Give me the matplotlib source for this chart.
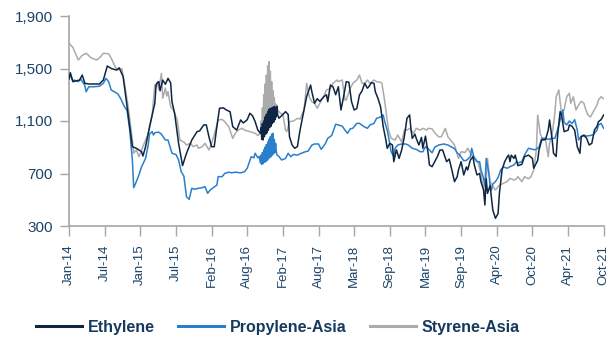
import matplotlib
matplotlib.use("Agg")
from matplotlib import pyplot as plt

# weekly series, x = week number counted from Jan-14 (half weeks where the source is denser)
eth_weeks = [0, 1, 3, 8, 10, 12, 15, 23, 26, 29, 32, 36, 38, 41, 43, 46, 48, 51, 55, 56, 58, 61, 65, 66, 68, 69,
             71, 73, 75, 77, 78, 80, 83, 86, 89, 93, 97, 99, 102, 104, 106, 108, 110, 112, 114, 117, 119, 122, 124,
             127, 130, 132, 135, 137, 139, 141, 143, 145,
             145.5, 146, 146.5, 147, 147.5, 148, 148.5, 149, 149.5, 150, 150.5, 151, 151.5, 152, 152.5, 153, 153.5,
             154, 154.5, 155, 155.5, 156, 156.5, 157, 157.5, 158,
             159, 161, 164, 166, 167, 169, 171, 173, 175, 178, 180, 183, 184, 186, 188, 190, 193, 195, 196, 198,
             200, 202, 204, 206, 208, 210, 212, 214, 216, 218, 220, 222, 224, 226, 227, 229, 231, 232, 234, 236, 238,
             240, 241, 243, 245, 246, 248, 250, 252, 254, 256, 258, 259, 260, 262, 263, 265, 267, 268, 270, 272, 273,
             275, 277, 279, 281, 283, 284, 286, 288, 290, 292, 294, 295, 297, 299, 301, 302, 304, 306, 307, 309, 311,
             312, 314, 315, 316, 317, 319, 320, 321, 323, 325, 326, 328, 330, 332, 333, 334, 335, 337, 338, 340, 343,
             345, 348, 351, 352, 355, 356, 358, 361, 363, 364, 366, 367, 369, 370, 372, 373, 375, 378, 379, 381, 383,
             385, 387, 388, 390, 392, 394, 396, 398, 400, 401, 403, 405]
eth_values = [1420, 1468, 1400, 1412, 1450, 1387, 1382, 1382, 1412, 1519, 1500, 1488, 1505, 1438, 1285, 1056, 904,
              892, 866, 833, 904, 1056, 1235, 1380, 1400, 1330, 1412, 1380, 1425, 1390, 1247, 1159, 930, 760, 854,
              955, 1019, 1025, 1070, 1070, 980, 904, 904, 1057, 1197, 1200, 1185, 1171, 1057, 1031, 1108, 1085, 1110,
              1159, 1140, 1095, 1031, 1006,
              1050, 960, 1080, 955, 1100, 980, 1130, 1000, 1150, 1010, 1170, 1030, 1190, 1050, 1195, 1060, 1200,
              1080, 1205, 1090, 1210, 1110, 1205, 1130, 1210, 1150,
              1121, 1140, 1171, 1150, 980, 917, 892, 905, 1031, 1184, 1285, 1374, 1320, 1235, 1270, 1250, 1285, 1300,
              1247, 1374, 1360, 1300, 1361, 1184, 1285, 1400, 1395, 1247, 1184, 1195, 1298, 1330, 1387, 1350, 1360,
              1392, 1387, 1323, 1273, 1209, 1057, 955, 892, 930, 917, 790, 880, 815, 880, 980, 1121, 1146, 1040, 968,
              1000, 968, 917, 975, 892, 985, 854, 765, 752, 790, 828, 879, 879, 850, 790, 810, 727, 638, 675, 727,
              790, 689, 750, 727, 803, 828, 765, 689, 700, 638, 574, 460, 660, 549, 610, 511, 422, 359, 395, 549, 727,
              790, 828, 840, 790, 840, 815, 840, 760, 770, 828, 840, 815, 740, 800, 879, 955, 960, 1031, 1108, 955,
              854, 830, 980, 1171, 1150, 1019, 1030, 1070, 1060, 1030, 904, 854, 980, 990, 970, 917, 930, 1031, 1060,
              1095, 1110, 1146]

pro_weeks = [0, 1, 3, 4, 7, 9, 12, 13, 15, 19, 23, 26, 28, 30, 32, 34, 37, 39, 42, 44, 46, 48, 49, 51, 53, 55, 58,
             60, 61, 63, 64, 65, 68, 70, 73, 75, 78, 81, 83, 85, 87, 89, 91, 93, 95, 98, 101, 103, 105, 107, 109, 112,
             113, 116, 118, 121, 123, 126, 130, 133, 135, 138, 140, 141, 143, 144,
             145, 145.5, 146, 146.5, 147, 147.5, 148, 148.5, 149, 149.5, 150, 150.5, 151, 151.5, 152, 152.5, 153,
             153.5, 154, 154.5, 155, 155.5, 156, 156.5, 157, 157.5,
             159, 161, 164, 166, 168, 170, 173, 175, 179, 181, 184, 186, 189, 191, 194,
             196, 199, 202, 204, 207, 209, 211, 213, 215, 218, 220, 223, 226, 228, 231, 233, 236, 238, 239, 241, 242,
             244, 246, 247, 249, 252, 255, 257, 260, 263, 266, 268, 270, 272, 275, 277, 280, 284, 287, 290, 292, 294,
             296, 299, 301, 304, 305, 307, 309, 311, 312, 314, 315, 316, 318, 319, 320, 321, 323, 325, 327, 329, 332,
             334, 337, 339, 340, 343, 345, 348, 351, 353, 356, 358, 361, 363, 366, 368, 370, 372, 374, 375, 377, 379,
             381, 383, 385, 386, 388, 390, 392, 395, 397, 400, 401, 403, 405]
pro_values = [1425, 1450, 1400, 1412, 1400, 1418, 1370, 1323, 1361, 1361, 1365, 1387, 1425, 1400, 1336, 1325, 1306,
              1273, 1209, 1180, 1031, 803, 592, 638, 690, 752, 815, 917, 1000, 1019, 993, 1011, 1015, 1000, 955, 955,
              854, 845, 803, 714, 680, 523, 503, 587, 580, 587, 592, 600, 549, 575, 590, 612, 676, 676, 701, 710, 705,
              710, 705, 714, 740, 828, 820, 854, 820, 830,
              780, 840, 770, 860, 775, 880, 785, 900, 790, 920, 800, 940, 810, 960, 820, 980, 830,
              1000, 840, 1006, 850, 960, 860, 930, 870, 841,
              830, 803, 815, 854, 828, 845, 840, 850, 866, 870, 917, 925, 925, 884, 925, 968, 990, 1075, 1070,
              1060, 1031, 1006, 1040, 1045, 1082, 1082, 1060, 1044, 1070, 1082, 1121, 1130, 1146, 1100, 1031, 980,
              866, 828, 892, 917, 925, 925, 917, 892, 884, 866, 866, 904, 890, 858, 900, 917, 925, 917, 900, 890, 858,
              840, 797, 800, 828, 892, 815, 790, 790, 730, 663, 600, 815, 700, 600, 574, 620, 638, 670, 727, 750, 740,
              752, 765, 790, 780, 790, 841, 892, 885, 880, 900, 968, 968, 960, 968, 968, 1031, 1108, 1184, 1090, 1070,
              1100, 1080, 1110, 1031, 955, 985, 993, 985, 990, 995, 1031, 1070, 1082, 1044]

sty_weeks = [0, 3, 7, 10, 13, 17, 21, 24, 26, 30, 32, 35, 37, 40, 42, 45, 48, 49, 51, 53, 55, 58, 60, 63, 65, 66, 67,
             68, 70, 71, 73, 74, 75, 77, 79, 82, 84, 87, 89, 92, 94, 97, 98, 101, 103, 106, 108, 111, 113, 116, 118,
             121, 124, 126, 128, 131, 133, 137, 141, 143, 145,
             145.5, 146, 146.5, 147, 147.5, 148, 148.5, 149, 149.5, 150, 150.5, 151, 151.5, 152, 152.5, 153, 153.5,
             154, 154.5, 155, 155.5, 156, 156.5, 157, 157.5, 158,
             160, 162, 164, 165, 167, 170, 173, 175, 178, 180, 182, 184, 186, 188, 190, 193, 195, 198, 200,
             203, 204, 207, 209, 210, 213, 215, 218, 220, 222, 224, 226, 228, 231, 233, 236, 237, 239, 241, 242, 244,
             247, 249, 252, 254, 256, 258, 261, 263, 266, 268, 271, 272, 275, 277, 280, 282, 285, 287, 289, 292, 295,
             297, 300, 302, 305, 308, 310, 312, 313, 315, 316, 317, 318, 319, 320, 323, 325, 326, 329, 332, 334, 337,
             339, 340, 343, 345, 348, 350, 352, 354, 355, 357, 359, 361, 363, 364, 366, 368, 369, 371, 372, 373, 375,
             377, 379, 380, 382, 384, 386, 388, 390, 391, 393, 395, 397, 400, 401, 403, 405]
sty_values = [1692, 1660, 1565, 1600, 1616, 1580, 1565, 1590, 1616, 1612, 1578, 1513, 1490, 1500, 1387, 1197, 955,
              854, 880, 828, 880, 955, 1000, 1146, 1374, 1361, 1400, 1340, 1463, 1273, 1350, 1290, 1323, 1209, 1184,
              1108, 955, 940, 917, 930, 905, 917, 892, 905, 930, 879, 930, 1031, 1108, 1112, 1095, 1057, 968, 1006,
              1031, 1044, 1031, 1019, 1006, 990, 1006,
              1100, 1040, 1200, 1060, 1300, 1080, 1380, 1100, 1450, 1120, 1520, 1150, 1552, 1160, 1480, 1150, 1400,
              1140, 1330, 1150, 1280, 1160, 1230, 1180, 1220, 1184,
              1160, 1150, 1031, 1020, 1095, 1100, 1120, 1115, 1184, 1387, 1285, 1245, 1235, 1197,
              1235, 1290, 1336, 1349, 1387, 1412, 1400, 1412, 1260, 1260, 1349, 1387, 1412, 1450, 1387, 1387, 1412,
              1387, 1412, 1400, 1395, 1387, 1260, 1108, 1031, 968, 955, 993, 940, 1031, 1031, 1044, 1006, 1044, 1031,
              1044, 1031, 1044, 1040, 1010, 980, 980, 1044, 980, 955, 917, 815, 866, 860, 892, 840, 815, 777, 700, 638,
              536, 640, 815, 720, 640, 620, 574, 600, 610, 625, 640, 663, 650, 660, 676, 638, 676, 660, 676, 727, 879,
              1146, 1000, 955, 955, 828, 930, 1000, 1159, 1285, 1336, 1250, 1159, 1184, 1285, 1311, 1235, 1285, 1184,
              1222, 1250, 1235, 1200, 1146, 1130, 1170, 1222, 1260, 1285, 1270]

tick_labels = ['Jan-14', 'Jul-14', 'Jan-15', 'Jul-15', 'Feb-16', 'Aug-16', 'Feb-17', 'Aug-17',
               'Mar-18', 'Sep-18', 'Mar-19', 'Sep-19', 'Apr-20', 'Oct-20', 'Apr-21', 'Oct-21']
y_ticks = [300, 700, 1100, 1500, 1900]

text_color = '#1b4468'
axis_grey = '#a6a6a6'

fig = plt.figure(figsize=(6.08, 3.38), dpi=100)
ax = fig.add_axes([69 / 608, 1 - 226 / 338, (603.7 - 69) / 608, 210 / 338])

ax.plot(sty_weeks, sty_values, color='#ababab', lw=1.1, label='Styrene-Asia', zorder=2)
ax.plot(pro_weeks, pro_values, color='#2a7fcc', lw=1.1, label='Propylene-Asia', zorder=3)
ax.plot(eth_weeks, eth_values, color='#0f2642', lw=1.1, label='Ethylene', zorder=4)

ax.set_xlim(0, 405)
ax.set_ylim(300, 1900)
ax.set_xticks([27 * i for i in range(len(tick_labels))])
ax.set_xticklabels(tick_labels, rotation=90, fontsize=9.5, color=text_color,
                   family=['Liberation Sans Narrow', 'Liberation Sans'])
ax.set_yticks(y_ticks)
ax.set_yticklabels([f'{v:,}' for v in y_ticks], fontsize=11, color=text_color, family='Liberation Sans')

for side in ['top', 'right']:
    ax.spines[side].set_visible(False)
for side in ['left', 'bottom']:
    ax.spines[side].set_color(axis_grey)
    ax.spines[side].set_linewidth(1.2)
ax.tick_params(axis='x', length=7.5, width=1, color=axis_grey, pad=6)
ax.tick_params(axis='y', length=6.5, width=1, color=axis_grey, pad=5)

handles, labels = ax.get_legend_handles_labels()
order = [2, 1, 0]
leg = fig.legend([handles[i] for i in order], [labels[i] for i in order], loc='center left',
                 bbox_to_anchor=(36 / 608, 1 - 327.5 / 338), ncol=3, frameon=False, borderpad=0,
                 borderaxespad=0, handlelength=2.9, handletextpad=0.35, columnspacing=1.45,
                 prop={'family': 'Liberation Sans', 'weight': 'bold', 'size': 11.5})
for line in leg.get_lines():
    line.set_linewidth(2.2)
for t in leg.get_texts():
    t.set_color('#163a5e')

fig.savefig('out.png', dpi=100)
